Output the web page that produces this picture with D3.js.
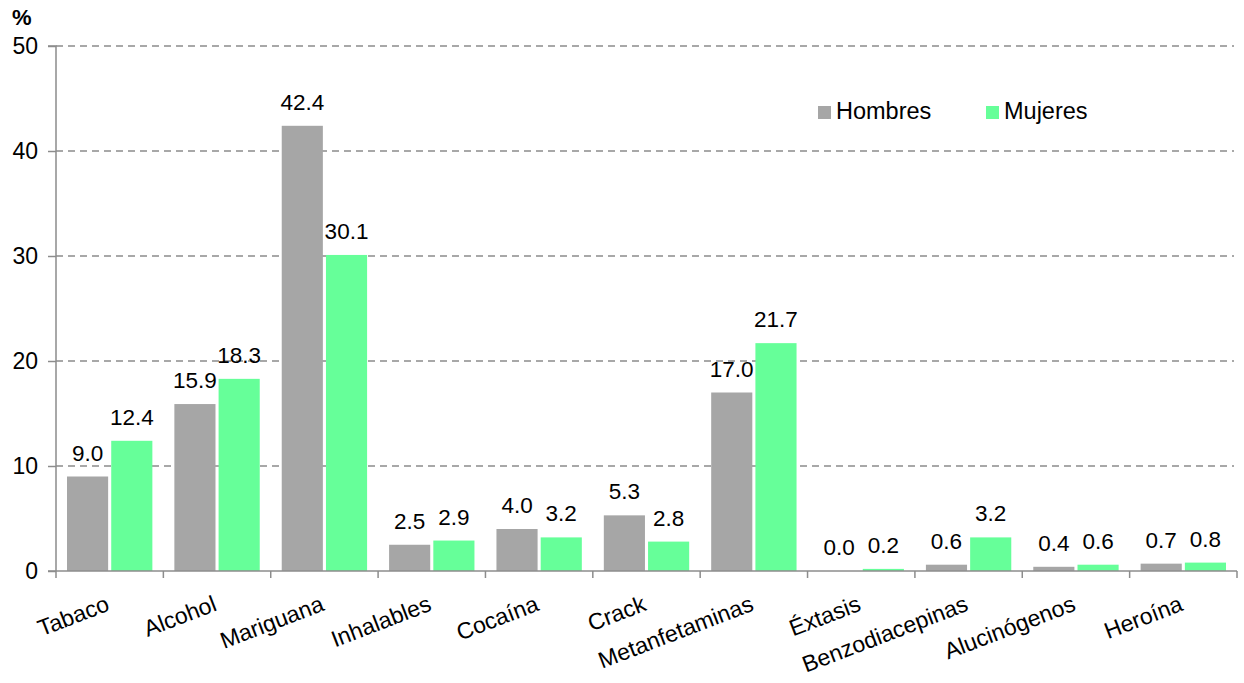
<!DOCTYPE html>
<html><head><meta charset="utf-8">
<script src="https://cdn.jsdelivr.net/npm/d3@7"></script>
<style>body{margin:0;background:#fff;}svg{display:block;font-family:"Liberation Sans",Arial,sans-serif;}</style>
</head><body>
<svg id="c" width="1244" height="683"></svg>
<script>
const categories = ["Tabaco","Alcohol","Mariguana","Inhalables","Cocaína","Crack","Metanfetaminas","Éxtasis","Benzodiacepinas","Alucinógenos","Heroína"];
const hombres = [9.0,15.9,42.4,2.5,4.0,5.3,17.0,0.0,0.6,0.4,0.7];
const mujeres = [12.4,18.3,30.1,2.9,3.2,2.8,21.7,0.2,3.2,0.6,0.8];
const seriesNames = ["Hombres","Mujeres"];
const colors = ["#a6a6a6","#66ff99"];
const yTicks = [0,10,20,30,40,50];

const FF = "Liberation Sans, Arial, sans-serif";
const svg = d3.select("#c");
const L = 56, R = 1237, T = 46, B = 571;
const x = d3.scaleBand().domain(categories).range([L, R]).paddingInner(0).paddingOuter(0);
const bw = x.bandwidth();
const x1 = d3.scaleBand().domain(seriesNames).range([11, bw - 11]).paddingInner(0.07).paddingOuter(0);
const y = d3.scaleLinear().domain([0, 50]).range([B, T]);

// gridlines
svg.append("g").selectAll("line").data(yTicks.filter(d => d > 0)).join("line")
  .attr("x1", L).attr("x2", R - 3).attr("y1", d => y(d)).attr("y2", d => y(d))
  .attr("stroke", "#8c8c8c").attr("stroke-width", 1.3).attr("stroke-dasharray", "7,5");

// bars
const data = categories.map((c, i) => ({c, vals: [hombres[i], mujeres[i]]}));
const g = svg.append("g").selectAll("g").data(data).join("g").attr("transform", d => `translate(${x(d.c)},0)`);
g.selectAll("rect").data(d => d.vals.map((v, j) => ({s: seriesNames[j], v, j}))).join("rect")
  .attr("x", d => x1(d.s)).attr("width", x1.bandwidth())
  .attr("y", d => y(d.v)).attr("height", d => B - y(d.v))
  .attr("fill", d => colors[d.j]);
g.selectAll("text").data(d => d.vals.map((v, j) => ({s: seriesNames[j], v, j}))).join("text")
  .attr("x", d => x1(d.s) + x1.bandwidth() / 2).attr("y", d => y(d.v) - 16)
  .attr("text-anchor", "middle").attr("font-size", 22.5).attr("fill", "#000")
  .text(d => d.v.toFixed(1));

// y axis
const ya = svg.append("g").attr("transform", `translate(${L},0)`)
  .call(d3.axisLeft(y).tickValues(yTicks).tickSize(8).tickPadding(10).tickFormat(d3.format("d")));
ya.select(".domain").attr("stroke", "#8c8c8c").attr("stroke-width", 1.5).attr("d", `M-8,${T}H0V${B}`);
ya.selectAll(".tick line").attr("stroke", "#8c8c8c").attr("stroke-width", 1.5);
ya.selectAll(".tick text").attr("font-size", 23).attr("fill", "#000").attr("font-family", FF);

// x axis
const xa = svg.append("g").attr("transform", `translate(0,${B})`);
xa.append("line").attr("x1", L - 8).attr("x2", R).attr("y1", 0).attr("y2", 0).attr("stroke", "#8c8c8c").attr("stroke-width", 1.5);
const bounds = categories.map(c => x(c)).concat([R]);
xa.selectAll("line.t").data(bounds).join("line").attr("class", "t")
  .attr("x1", d => d).attr("x2", d => d).attr("y1", 0).attr("y2", 7)
  .attr("stroke", "#8c8c8c").attr("stroke-width", 1.5);
xa.selectAll("text").data(categories).join("text")
  .attr("transform", d => `translate(${x(d) + bw / 2 + 1},${39}) rotate(-21)`)
  .attr("text-anchor", "end").attr("font-size", 23).attr("fill", "#000")
  .text(d => d);

// % label
svg.append("text").attr("x", 12).attr("y", 25).attr("font-size", 22).attr("font-weight", "bold").text("%");

// legend
const leg = svg.append("g");
const legX = [818, 986];
seriesNames.forEach((s, i) => {
  leg.append("rect").attr("x", legX[i]).attr("y", 106).attr("width", 13).attr("height", 13).attr("fill", colors[i]);
  leg.append("text").attr("x", legX[i] + 18).attr("y", 119).attr("font-size", 23.5).text(s);
});
</script>
</body></html>
